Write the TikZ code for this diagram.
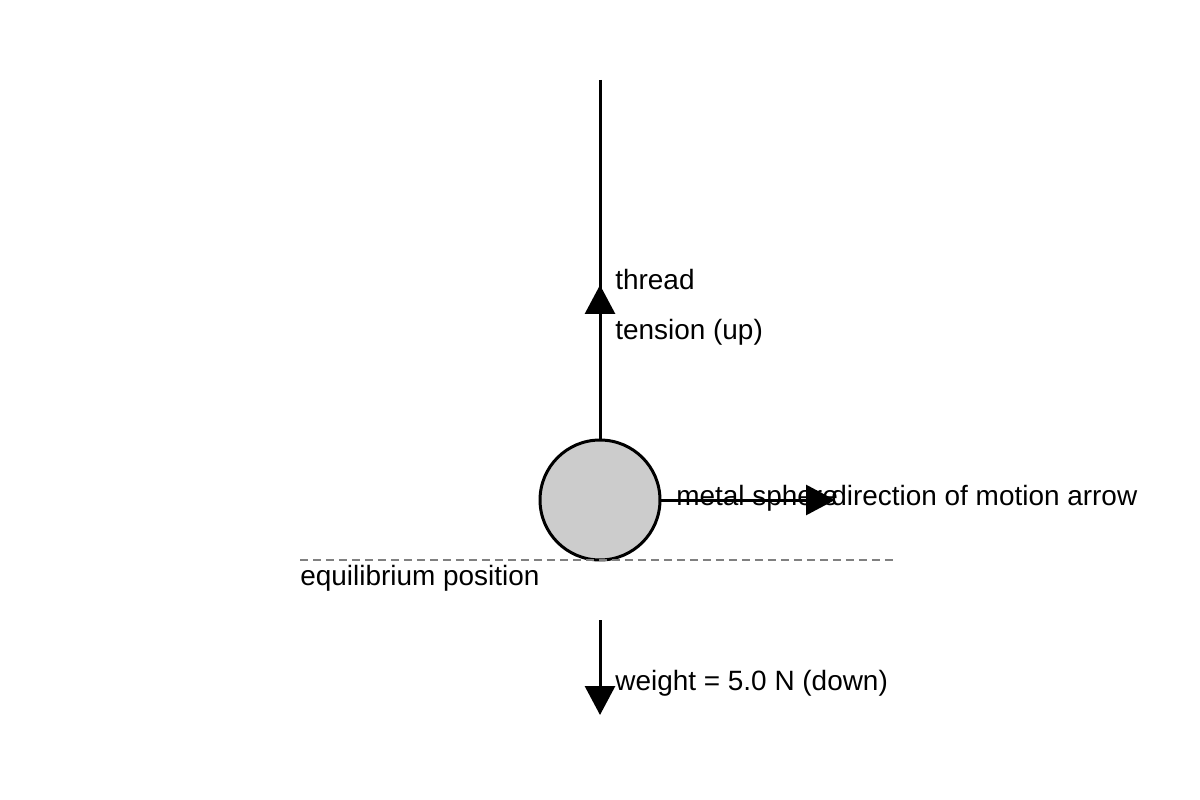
\documentclass[tikz,border=0pt]{standalone}
\usepackage{fontspec}
\setmainfont{Liberation Sans}
\usetikzlibrary{arrows.meta}
\tikzset{
	force/.style={line width=0.06cm, -{Triangle[length=0.58cm,width=0.6cm]}},
	rope/.style={line width=0.06cm},
	lbl/.style={anchor=base west, inner sep=0pt, font=\fontsize{15.9}{19}\selectfont},
	ball/.style={circle, draw, line width=0.06cm, fill=black!20, minimum size=2.4cm, inner sep=0pt},
	eqline/.style={line width=0.03cm, color=black!50, dash pattern=on 0.16cm off 0.1cm}
}

\begin{document}
\begin{tikzpicture}[x=0.02cm, y=-0.02cm]
			%%%%% START %%%%%
			\useasboundingbox (0, 0) rectangle (1200, 800);
			
			\coordinate (pivot) at (600, 80);
			\node[ball] (sphere) at (600, 500) {};
			\draw[rope] (pivot) -- (sphere.north);
			
			\coordinate (tensionfoot) at (600, 380);
			\coordinate (tensiontip) at (600, 285);
			\draw[force] (tensionfoot) -- (tensiontip);
			
			\coordinate (motiontip) at (835, 500);
			\draw[force] (sphere.east) -- (motiontip);
			
			\coordinate (weightfoot) at (600, 620);
			\coordinate (weighttip) at (600, 715);
			\draw[force] (weightfoot) -- (weighttip);
			
			\coordinate (eqleft) at (300, 560);
			\coordinate (eqright) at (895, 560);
			\draw[eqline] (eqleft) -- (eqright);
			
			\node[lbl] (threadlbl) at (615, 290) {thread};
			\node[lbl] (tensionlbl) at (615, 340) {tension (up)};
			\node[lbl] (spherelbl) at (676, 505) {metal sphere};
			\node[lbl] (motionlbl) at (831, 505) {direction of motion arrow};
			\node[lbl] (eqlbl) at (300, 585) {equilibrium position};
			\node[lbl] (weightlbl) at (615, 690) {weight = 5.0 N (down)};
			
			%%%%% END %%%%%
\end{tikzpicture}
\end{document}
